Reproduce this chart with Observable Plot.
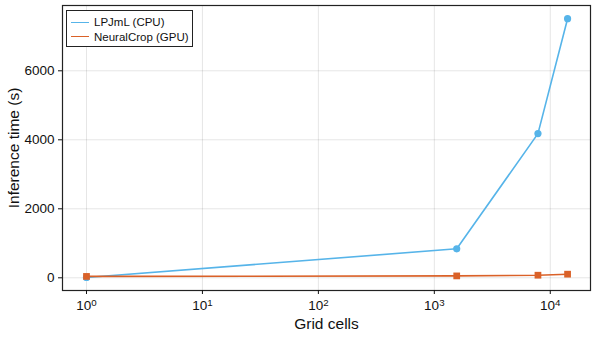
<!DOCTYPE html>
<html>
<head>
<meta charset="utf-8">
<script src="https://cdn.jsdelivr.net/npm/d3@7"></script>
<script src="https://cdn.jsdelivr.net/npm/@observablehq/plot@0.6"></script>
<style>
  body { margin: 0; background: #fff; font-family: "Liberation Sans", Arial, sans-serif; }
  #wrap { position: relative; width: 595px; height: 337px; }
  #legend { position: absolute; left: 66px; top: 10px; width: 127px; height: 37px; border: 1px solid #222; background: #fff; box-sizing: border-box; font-size: 11.5px; color: #111; white-space: nowrap; }
  #legend .row { position: absolute; left: 4px; height: 14px; display: flex; align-items: center; white-space: nowrap; }
  #legend .sw { width: 18px; height: 0; border-top: 1.6px solid; margin-right: 5px; flex: none; }
  svg g[aria-label="x-axis label"] text, svg g[aria-label="y-axis label"] text { font-size: 15.5px; }
</style>
</head>
<body>
<div id="wrap"></div>
<script>
const gridCells = [1, 1560, 7830, 14100];
const lpjml = [10, 840, 4180, 7510];
const neuralcrop = [40, 55, 75, 105];
const seriesNames = ["LPJmL (CPU)", "NeuralCrop (GPU)"];
const colors = ["#56B4E9", "#DA6128"];
const xTicks = [1, 10, 100, 1000, 10000];
const yTicks = [0, 2000, 4000, 6000];

const rowsA = gridCells.map((x, i) => ({x, y: lpjml[i]}));
const rowsB = gridCells.map((x, i) => ({x, y: neuralcrop[i]}));

const chart = Plot.plot({
  width: 595,
  height: 337,
  marginLeft: 62,
  marginTop: 5,
  marginRight: 5,
  marginBottom: 47,
  style: {fontFamily: '"Liberation Sans", Arial, sans-serif', fontSize: "13.5px", color: "#111", background: "#fff"},
  x: {type: "log", domain: [0.621, 22230]},
  y: {domain: [-368, 7893]},
  marks: [
    Plot.gridX(xTicks, {stroke: "#000", strokeOpacity: 0.1}),
    Plot.gridY(yTicks, {stroke: "#000", strokeOpacity: 0.1}),
    Plot.frame({stroke: "#222", strokeWidth: 1.2}),
    Plot.axisX(xTicks, {tickFormat: d => "10^" + Math.round(Math.log10(d)), tickSize: 4, tickPadding: 6, label: "Grid cells", labelAnchor: "center", labelArrow: "none", labelOffset: 38}),
    Plot.axisY(yTicks, {tickFormat: d => String(d), tickSize: 4, tickPadding: 4, label: "Inference time (s)", labelAnchor: "center", labelArrow: "none", labelOffset: 55}),
    Plot.line(rowsA, {x: "x", y: "y", stroke: colors[0], strokeWidth: 1.6}),
    Plot.dot(rowsA, {x: "x", y: "y", r: 3.6, fill: colors[0], symbol: "circle"}),
    Plot.line(rowsB, {x: "x", y: "y", stroke: colors[1], strokeWidth: 1.6}),
    Plot.dot(rowsB, {x: "x", y: "y", r: 3.8, fill: colors[1], symbol: "square"})
  ]
});

// render superscript exponents on x tick labels
d3.select(chart).selectAll('g[aria-label="x-axis tick label"] text').each(function() {
  const t = d3.select(this);
  const s = t.text();
  const [base, exp] = s.split("^");
  t.text(base);
  t.append("tspan").attr("dy", "-0.45em").attr("font-size", "0.72em").text(exp);
});

const wrap = document.getElementById("wrap");
wrap.appendChild(chart);

const legend = document.createElement("div");
legend.id = "legend";
seriesNames.forEach((name, i) => {
  const row = document.createElement("div");
  row.className = "row";
  row.style.top = (4 + i * 14.5) + "px";
  const sw = document.createElement("span");
  sw.className = "sw";
  sw.style.borderColor = colors[i];
  const t = document.createElement("span");
  t.textContent = name;
  row.appendChild(sw);
  row.appendChild(t);
  legend.appendChild(row);
});
wrap.appendChild(legend);
</script>
</body>
</html>
